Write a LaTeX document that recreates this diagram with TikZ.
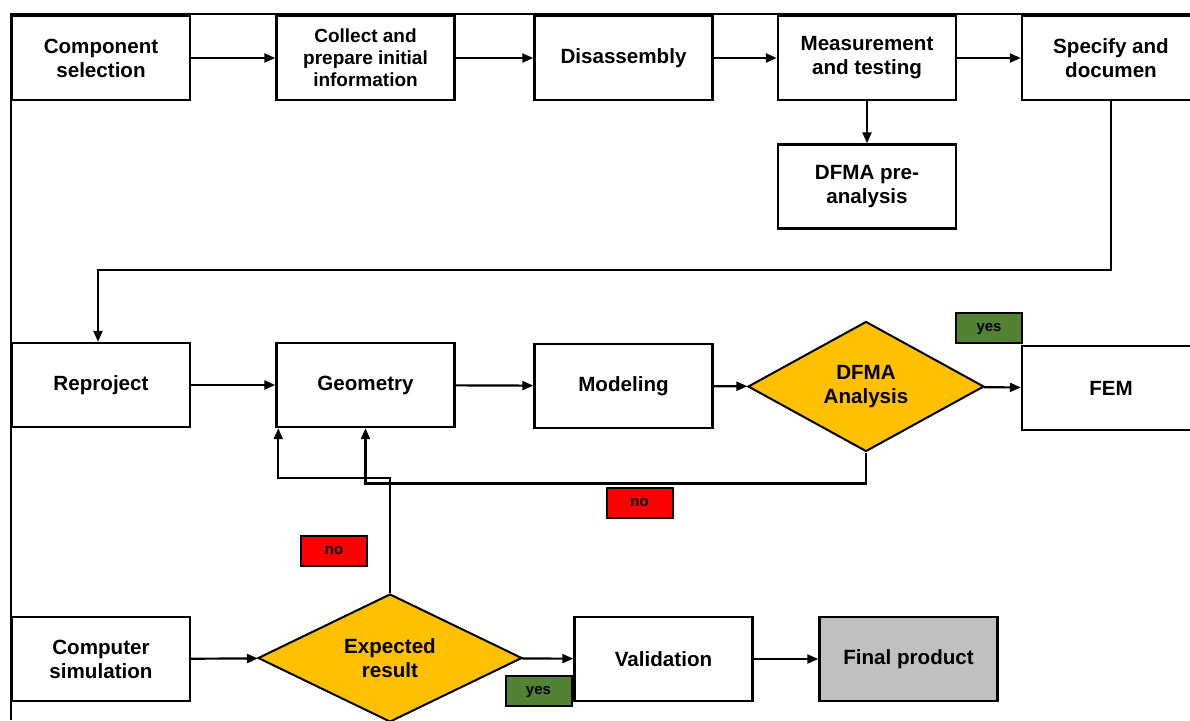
\documentclass[tikz,border=0pt]{standalone}
\usepackage{fontspec}
\setmainfont{Liberation Sans}
\usetikzlibrary{arrows.meta,shapes.geometric,calc}
\definecolor{decyel}{HTML}{FFC000}
\definecolor{yesgr}{HTML}{548235}
\definecolor{nored}{HTML}{FF0000}
\definecolor{fingr}{HTML}{C0C0C0}

\begin{document}
\begin{tikzpicture}[x=1pt, y=-1pt,
			box/.style = {draw, line width=2.4pt, fill=white, minimum width=178pt, minimum height=84pt,
				inner sep=0pt, align=center, font=\fontsize{20.6}{24}\selectfont\bfseries},
			dec/.style = {diamond, draw, line width=2pt, fill=decyel, inner sep=0pt, aspect=1.8,
				align=center, font=\fontsize{20.6}{24}\selectfont\bfseries},
			tag/.style = {draw, line width=2pt, minimum width=66pt, minimum height=30pt,
				inner sep=0pt, text height=9pt, text depth=3pt, font=\fontsize{15}{18}\selectfont\bfseries},
			arr/.style = {draw, line width=2.2pt, -{Triangle[length=11pt, width=9pt]}},
			]
			\useasboundingbox (0,0) rectangle (1190,720);
			\clip (0,0) rectangle (1190,720);
			
					\draw[line width=1.5pt] (1190,14) -- (11,14) -- (11,720);    % frame
					
					% first row
					\node[box] (comp) at (101,58) {Component\\selection};
					\node[box, font=\fontsize{19}{22}\selectfont\bfseries] (coll) at (365.5,58) {Collect and\\prepare initial\\information};
					\node[box] (disa) at (623.5,58) {Disassembly};
					\node[box] (meas) at (867,58) {Measurement\\and testing};
					\node[box] (spec) at (1111,58) {Specify and\\documen};
					\node[box] (pre) at (867,186.5) {DFMA pre-\\analysis};
					
					% second row
					\node[box] (repr) at (101,385) {Reproject};
					\node[box] (geom) at (365.5,385) {Geometry};
					\node[box] (mode) at (623.5,386) {Modeling};
					\node[dec, minimum width=236pt, minimum height=130pt] (dfma) at (866,386.5) {DFMA\\Analysis};
					\node[box] (fem) at (1111,388) {FEM};
					
					% third row
					\node[box] (simu) at (101,659) {Computer\\simulation};
					\node[dec, minimum width=264pt, minimum height=128pt] (expr) at (390,658) {Expected\\result};
					\node[box] (vali) at (663.5,659) {Validation};
					\node[box, fill=fingr] (fina) at (908.5,659) {Final product};
					
					% yes / no tags
					\node[tag, fill=yesgr] (yes1) at (989,328) {yes};
					\node[tag, fill=nored] (no1) at (639.5,503) {no};
					\node[tag, fill=nored] (no2) at (334,551) {no};
					\node[tag, fill=yesgr] (yes2) at (538.5,691) {yes};
					
					\coordinate (rin) at ($(repr.north)+(-3,0)$);
					\coordinate (gin) at ($(geom.south west)+(3,0)$);
					
					\draw[arr] (comp) -- (coll);
					\draw[arr] (coll) -- (disa);
					\draw[arr] (disa) -- (meas);
					\draw[arr] (meas) -- (spec);
					\draw[arr] (meas) -- (pre);
					\draw[arr] (spec.south) -- ++(0,169) -| (rin);    % <---
					\draw[arr] (repr) -- (geom);
					\draw[arr] (geom) -- (mode);
					\draw[arr] (mode) -- (dfma);
					\draw[arr] (dfma) -- (fem);
					\draw[arr] (dfma.south) -- ++(0,31) -| (geom.south);    % no
					\draw[arr] (simu) -- (expr);
					\draw[arr] (expr) -- (vali);
					\draw[arr] (vali) -- (fina);
					\draw[arr] (expr.north) -- ++(0,-115) -| (gin);    % no
					
		\end{tikzpicture}
\end{document}
